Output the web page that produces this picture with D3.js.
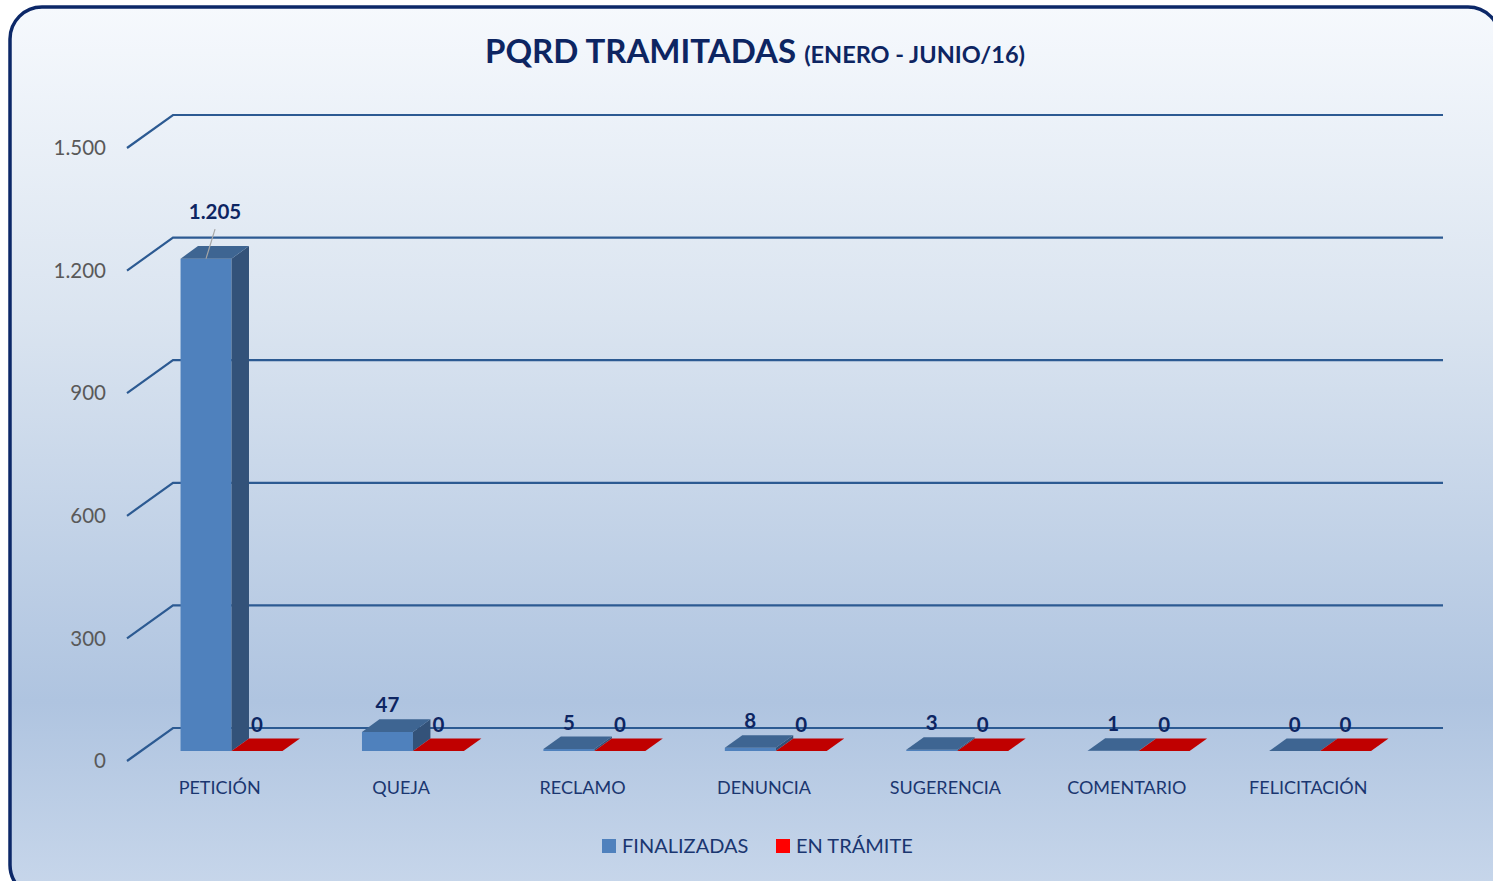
<!DOCTYPE html>
<html>
<head>
<meta charset="utf-8">
<script src="https://cdn.jsdelivr.net/npm/d3@7"></script>
<style>
  html, body { margin: 0; padding: 0; background: #ffffff; overflow: hidden; }
  svg { display: block; font-family: Lato, "Open Sans", sans-serif; }
</style>
</head>
<body>
<div id="chart"></div>
<script>
const categories = ['PETICIÓN', 'QUEJA', 'RECLAMO', 'DENUNCIA', 'SUGERENCIA', 'COMENTARIO', 'FELICITACIÓN'];
const finalizadas = [1205, 47, 5, 8, 3, 1, 0];
const enTramite = [0, 0, 0, 0, 0, 0, 0];
const seriesNames = ['FINALIZADAS', 'EN TRÁMITE'];
const yTicks = [0, 300, 600, 900, 1200, 1500];

const W = 1493, H = 881;
// oblique 3d depth offsets (back wall vs front plane)
const DX = 46, DY = 33;
const z0 = 0.3, z1 = 0.68;

const colors = {
  FINALIZADAS: { front: '#4f81bd', top: '#3e6592', side: '#335279', legend: '#4f81bd' },
  'EN TRÁMITE': { front: '#c00000', top: '#c00000', side: '#8f0000', legend: '#ff0000' },
};

const fmt = d3.formatLocale({ decimal: ',', thousands: '.', grouping: [3], currency: ['$', ''] }).format(',d');

const svg = d3.select('#chart').append('svg').attr('width', W).attr('height', H);

const defs = svg.append('defs');
const grad = defs.append('linearGradient').attr('id', 'bg').attr('x1', 0).attr('y1', 0).attr('x2', 0).attr('y2', 1);
grad.append('stop').attr('offset', '0%').attr('stop-color', '#f6f9fd');
grad.append('stop').attr('offset', '35%').attr('stop-color', '#dae4f0');
grad.append('stop').attr('offset', '78%').attr('stop-color', '#afc4e0');
grad.append('stop').attr('offset', '100%').attr('stop-color', '#c8d7eb');

svg.append('rect')
  .attr('x', 10).attr('y', 7).attr('width', 1490).attr('height', 890)
  .attr('rx', 32).attr('ry', 32)
  .attr('fill', 'url(#bg)')
  .attr('stroke', '#0c2868').attr('stroke-width', 3.5);

// title
const title = svg.append('text')
  .attr('x', 755).attr('y', 63)
  .attr('text-anchor', 'middle')
  .attr('fill', '#0d2562')
  .style('font-weight', 'bold');
title.append('tspan').style('font-size', '33px').text('PQRD TRAMITADAS ');
title.append('tspan').style('font-size', '23.5px').text('(ENERO - JUNIO/16)');

const x = d3.scaleBand().domain(categories).range([127, 1397]);
const xs = d3.scaleBand().domain(seriesNames).range([0, x.bandwidth()]).paddingOuter(0.78);
const y = d3.scaleLinear().domain([0, 1500]).range([761, 148]);

// back wall gridlines + diagonal ticks
const grid = svg.append('g');
yTicks.forEach((t) => {
  grid.append('path')
    .attr('d', `M${x.range()[0]},${y(t)}L${x.range()[0] + DX},${y(t) - DY}L${x.range()[1] + DX},${y(t) - DY}`)
    .attr('fill', 'none')
    .attr('stroke', '#2c5a92')
    .attr('stroke-width', 2.2);
  svg.append('text')
    .attr('x', 106).attr('y', y(t))
    .attr('dy', '0.35em')
    .attr('text-anchor', 'end')
    .attr('fill', '#595959')
    .style('font-size', '20.5px')
    .text(fmt(t));
});

// project a point at depth z
const P = (px, py, z) => [px + z * DX, py - z * DY];
const poly = (pts) => 'M' + pts.map((p) => p.join(',')).join('L') + 'Z';

const bars = svg.append('g');
const labels = svg.append('g');

categories.forEach((c, i) => {
  const vals = [finalizadas[i], enTramite[i]];
  seriesNames.forEach((s, j) => {
    const v = vals[j];
    const xl = x(c) + xs(s);
    const xr = xl + xs.bandwidth();
    const yt = y(v), yb = y(0);
    const col = colors[s];

    if (v > 0) {
      // front face
      bars.append('path')
        .attr('d', poly([P(xl, yt, z0), P(xr, yt, z0), P(xr, yb, z0), P(xl, yb, z0)]))
        .attr('fill', col.front);
      // side face
      bars.append('path')
        .attr('d', poly([P(xr, yt, z0), P(xr, yt, z1), P(xr, yb, z1), P(xr, yb, z0)]))
        .attr('fill', col.side);
    }
    // top face
    bars.append('path')
      .attr('d', poly([P(xl, yt, z0), P(xr, yt, z0), P(xr, yt, z1), P(xl, yt, z1)]))
      .attr('fill', col.top);

    // value label
    let cx = (xl + xr) / 2 + z0 * DX;
    let ly = y(v) - z1 * DY - 7;
    if (v === d3.max(finalizadas)) {
      // label pushed above the gridline with a leader line
      const top = P((xl + xr) / 2, yt, z0);
      cx += 9;
      ly -= 20;
      labels.append('line')
        .attr('x1', cx).attr('y1', ly + 10)
        .attr('x2', top[0]).attr('y2', top[1])
        .attr('stroke', '#a6a6a6').attr('stroke-width', 1.2);
    }
    labels.append('text')
      .attr('x', cx).attr('y', ly)
      .attr('text-anchor', 'middle')
      .attr('fill', '#0d2562')
      .style('font-size', '20.5px')
      .style('font-weight', 'bold')
      .text(fmt(v));
  });
});

// category labels
categories.forEach((c) => {
  svg.append('text')
    .attr('x', x(c) + x.bandwidth() / 2 + 2)
    .attr('y', 788)
    .attr('dy', '0.35em')
    .attr('text-anchor', 'middle')
    .attr('fill', '#1a3670')
    .style('font-size', '18px')
    .text(c);
});

// legend
const legend = svg.append('g').attr('transform', 'translate(602, 846)');
seriesNames.forEach((s, i) => {
  const lxPos = i === 0 ? 0 : 174;
  legend.append('rect')
    .attr('x', lxPos).attr('y', -7)
    .attr('width', 14).attr('height', 14)
    .attr('fill', colors[s].legend);
  legend.append('text')
    .attr('x', lxPos + 20).attr('y', 0)
    .attr('dy', '0.35em')
    .attr('fill', '#1a3670')
    .style('font-size', '20px')
    .text(s);
});
</script>
</body>
</html>
